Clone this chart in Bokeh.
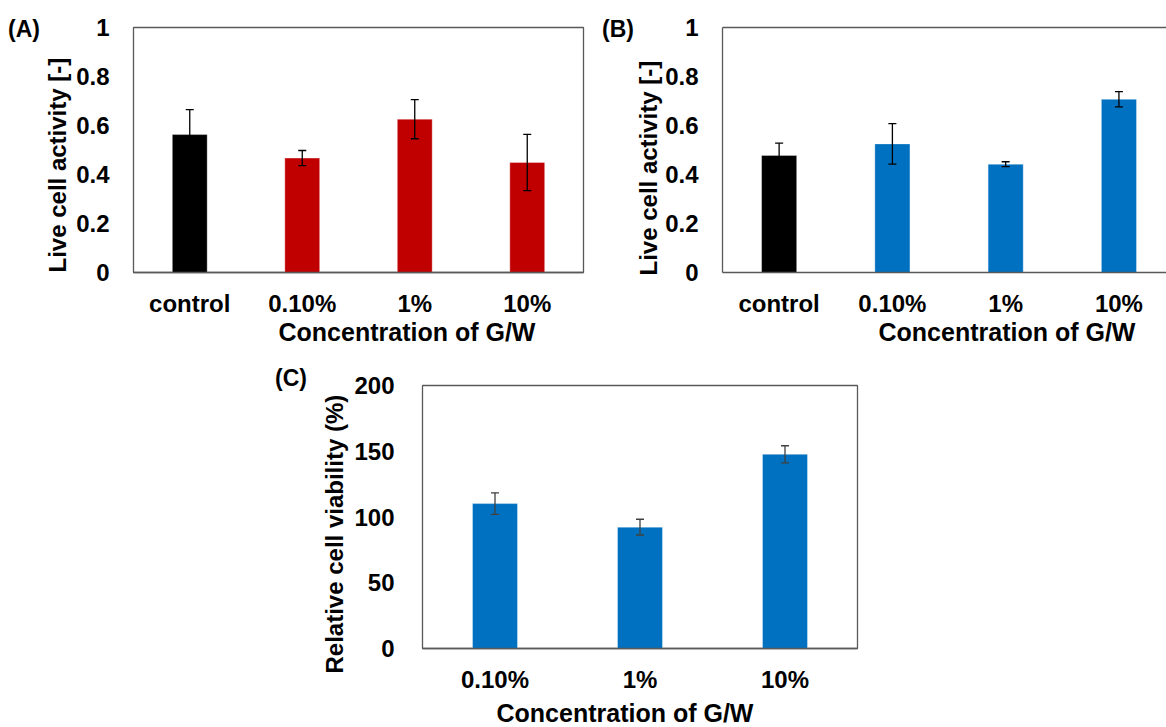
from bokeh.plotting import figure
from bokeh.models import (ColumnDataSource, Range1d, FactorRange, Whisker, TeeHead, Title, Div,
                          FixedTicker, NumeralTickFormatter, LinearAxis)
from bokeh.layouts import column, row
from bokeh.embed import file_html
from bokeh.resources import INLINE

# ---------------- data ----------------
categories_ab = ["control", "0.10%", "1%", "10%"]
activity_a = [0.563, 0.467, 0.626, 0.449]
error_a = [0.102, 0.031, 0.080, 0.115]
activity_b = [0.478, 0.525, 0.442, 0.707]
error_b = [0.050, 0.083, 0.010, 0.031]

categories_c = ["0.10%", "1%", "10%"]
viability_c = [110.2, 92.3, 147.7]
error_c = [8.2, 6.0, 6.5]

y_ticks_ab = [0, 0.2, 0.4, 0.6, 0.8, 1]
y_ticks_c = [0, 50, 100, 150, 200]
x_title = "Concentration of G/W"
y_title_ab = "Live cell activity [-]"
y_title_c = "Relative cell viability (%)"
panel_letters = ["(A)", "(B)", "(C)"]

# ---------------- style ----------------
FONT = "Liberation Sans"
RED = "#C00000"
BLUE = "#0070C0"
FRAME = "#595959"
TICK_SIZE = "24px"
XTITLE_SIZE = "25px"
YTITLE_SIZE = "24px"


def bar_colors(cats, main):
    return ["#000000" if c == "control" else main for c in cats]


def style_axes(p, yticks, y_standoff, fmt=None):
    p.xgrid.visible = False
    p.ygrid.visible = False
    p.border_fill_color = None
    for ax in p.axis:
        ax.major_tick_line_color = None
        ax.minor_tick_line_color = None
        ax.major_label_text_font = FONT
        ax.major_label_text_font_style = "bold"
        ax.major_label_text_font_size = TICK_SIZE
        ax.major_label_text_color = "black"
    p.xaxis.axis_line_color = FRAME
    p.xaxis.axis_line_width = 1.5
    p.xaxis.major_label_standoff = 11
    p.yaxis.ticker = FixedTicker(ticks=yticks)
    p.yaxis.major_label_standoff = y_standoff
    if fmt is not None:
        p.yaxis.formatter = fmt


def add_titles(p, xoff, xstand, yoff, ystand, ytext):
    p.add_layout(Title(text=x_title, align="left", offset=xoff, text_font=FONT,
                       text_font_size=XTITLE_SIZE, text_font_style="bold",
                       text_color="black", standoff=xstand), "below")
    p.add_layout(Title(text=ytext, align="left", offset=yoff, text_font=FONT,
                       text_font_size=YTITLE_SIZE, text_font_style="bold",
                       text_color="black", standoff=ystand), "left")


def letter_div(text, width, height, left, top):
    html = ('<div style="margin:%dpx 0 0 %dpx; font-family:\'Liberation Sans\'; font-weight:bold; '
            'font-size:23px; line-height:23px; color:black; white-space:nowrap">%s</div>'
            % (top, left, text))
    return Div(text=html, width=width, height=height, margin=0)


def add_errors(p, src, color):
    head = dict(size=8, line_color=color, line_width=1.3)
    p.add_layout(Whisker(source=src, base="x", upper="upper", lower="lower",
                         line_color=color, line_width=1.3, level="annotation",
                         upper_head=TeeHead(**head), lower_head=TeeHead(**head)))


# ---------------- panel A ----------------
src_a = ColumnDataSource(dict(
    x=categories_ab, top=activity_a,
    upper=[v + e for v, e in zip(activity_a, error_a)],
    lower=[v - e for v, e in zip(activity_a, error_a)],
    color=bar_colors(categories_ab, RED)))

pA = figure(width=552, height=346, x_range=FactorRange(*categories_ab), y_range=Range1d(0, 1),
            output_backend="svg", toolbar_location=None,
            min_border_left=94, min_border_right=7, min_border_top=27, min_border_bottom=74)
pA.vbar(x="x", top="top", width=0.31, source=src_a, fill_color="color",
        line_color="white", line_alpha=0.35, line_width=1)
add_errors(pA, src_a, "black")
pA.outline_line_color = FRAME
pA.outline_line_width = 1.3
style_axes(pA, y_ticks_ab, 18, NumeralTickFormatter(format="0.[0]"))
pA.yaxis.axis_line_color = None
pA.x_range.range_padding = 0
add_titles(pA, 145, -7, 0, 6, y_title_ab)

# ---------------- panel B ----------------
x_pos_b = [i + 0.5 for i in range(len(categories_ab))]
src_b = ColumnDataSource(dict(
    x=x_pos_b, top=activity_b,
    upper=[v + e for v, e in zip(activity_b, error_b)],
    lower=[v - e for v, e in zip(activity_b, error_b)],
    color=bar_colors(categories_ab, BLUE)))

pB = figure(width=534, height=346, x_range=Range1d(0, 3.92), y_range=Range1d(0, 1),
            output_backend="svg", toolbar_location=None,
            min_border_left=89, min_border_right=0, min_border_top=27, min_border_bottom=74)
pB.vbar(x="x", top="top", width=0.31, source=src_b, fill_color="color",
        line_color="white", line_alpha=0.35, line_width=1)
add_errors(pB, src_b, "black")
pB.outline_line_color = None
style_axes(pB, y_ticks_ab, 18, NumeralTickFormatter(format="0.[0]"))
xb = pB.below[0]
xb.ticker = FixedTicker(ticks=x_pos_b)
xb.major_label_overrides = {x: c for x, c in zip(x_pos_b, categories_ab)}
pB.yaxis.axis_line_color = FRAME
pB.yaxis.axis_line_width = 1.3
top_axis = LinearAxis(ticker=FixedTicker(ticks=[]), axis_line_color=FRAME, axis_line_width=1.3,
                      major_tick_line_color=None, minor_tick_line_color=None,
                      major_label_text_font_size="1px", major_label_standoff=0)
pB.add_layout(top_axis, "above")
add_titles(pB, 156, -7, -3, 1, y_title_ab)

# ---------------- panel C ----------------
src_c = ColumnDataSource(dict(
    x=categories_c, top=viability_c,
    upper=[v + e for v, e in zip(viability_c, error_c)],
    lower=[v - e for v, e in zip(viability_c, error_c)],
    color=bar_colors(categories_c, BLUE)))

pC = figure(width=852, height=381, x_range=FactorRange(*categories_c), y_range=Range1d(0, 200),
            output_backend="svg", toolbar_location=None,
            min_border_left=106, min_border_right=309, min_border_top=39, min_border_bottom=77)
pC.vbar(x="x", top="top", width=0.31, source=src_c, fill_color="color",
        line_color="white", line_alpha=0.35, line_width=1)
add_errors(pC, src_c, "#404040")
pC.outline_line_color = FRAME
pC.outline_line_width = 1.3
style_axes(pC, y_ticks_c, 22)
pC.yaxis.axis_line_color = None
pC.x_range.range_padding = 0
add_titles(pC, 74, 2, -25, 8, y_title_c)

divA = letter_div(panel_letters[0], 38, 346, 8, 18)
divB = letter_div(panel_letters[1], 42, 346, 12, 18)
divC = letter_div(panel_letters[2], 314, 381, 275, 21)

layout = column(row(divA, pA, divB, pB), row(divC, pC))
open("out.html", "w").write(file_html(layout, INLINE))
